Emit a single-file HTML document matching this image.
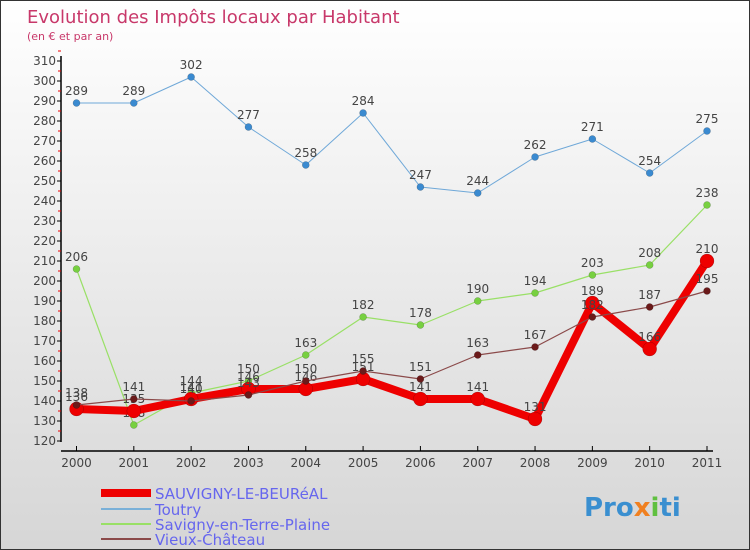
<!DOCTYPE html>
<html><head><meta charset="utf-8"><style>
body{margin:0}
#c{width:748px;height:548px;border:1px solid #333;background:linear-gradient(#ffffff,#d6d6d6);position:relative;overflow:hidden;font-family:"DejaVu Sans","Liberation Sans",sans-serif}
</style></head><body>
<div id="c">
<svg id="s" width="748" height="548" xmlns="http://www.w3.org/2000/svg">
<text x="26" y="22" font-size="18" fill="#c8386a">Evolution des Impôts locaux par Habitant</text>
<text x="26" y="39" font-size="11" fill="#c8386a">(en € et par an)</text>
<g id="axes"></g><g id="series"></g>
<g>
<line x1="100" y1="492" x2="150" y2="492" stroke="#ee0000" stroke-width="8"/>
<text x="154" y="498" font-size="15" fill="#6666ee">SAUVIGNY-LE-BEURéAL</text>
<line x1="100" y1="508" x2="150" y2="508" stroke="#7ab0d8" stroke-width="2"/>
<text x="154" y="514" font-size="15" fill="#6666ee">Toutry</text>
<line x1="100" y1="523" x2="150" y2="523" stroke="#99e066" stroke-width="2"/>
<text x="154" y="529" font-size="15" fill="#6666ee">Savigny-en-Terre-Plaine</text>
<line x1="100" y1="538" x2="150" y2="538" stroke="#8b4a4a" stroke-width="2"/>
<text x="154" y="544" font-size="15" fill="#6666ee">Vieux-Château</text>
</g>
<text x="583" y="515" font-size="26" font-weight="bold" fill="#3a8fd0">Pro<tspan fill="#f08020">x</tspan><tspan fill="#60c040">i</tspan>ti</text>
</svg></div>
<script>
const years=[2000,2001,2002,2003,2004,2005,2006,2007,2008,2009,2010,2011];
const yTicks=[120,130,140,150,160,170,180,190,200,210,220,230,240,250,260,270,280,290,300,310];
const sauvigny=[136,135,141,146,146,151,141,141,131,189,166,210];
const toutry=[289,289,302,277,258,284,247,244,262,271,254,275];
const savigny=[206,128,144,150,163,182,178,190,194,203,208,238];
const vieux=[138,141,140,143,150,155,151,163,167,182,187,195];
const NS="http://www.w3.org/2000/svg";
function X(i){return 75.5+i*(706-75.5)/11;}
function Y(v){return 440-(v-120)*2;}
function mk(t,a,p){const e=document.createElementNS(NS,t);for(const k in a)e.setAttribute(k,a[k]);p.appendChild(e);return e;}
const ax=document.getElementById('axes');
let l=mk('line',{x1:60,y1:Y(310)-5,x2:60,y2:441,stroke:'#000','stroke-width':1.5},ax);


l=mk('line',{x1:60,y1:450,x2:712,y2:450,stroke:'#000','stroke-width':1.5},ax);


yTicks.forEach(v=>{
 mk('line',{x1:56,y1:Y(v),x2:60,y2:Y(v),stroke:'#000'},ax);
 mk('line',{x1:57,y1:Y(v)-10,x2:60,y2:Y(v)-10,stroke:'#e00'},ax);
 const t=mk('text',{x:55,y:Y(v)+4,'font-size':12,'text-anchor':'end',fill:'#444'},ax);
 t.textContent=v;
 
 
});
years.forEach((y,i)=>{
 mk('line',{x1:X(i),y1:445,x2:X(i),y2:450,stroke:'#000'},ax);
 const t=mk('text',{x:X(i),y:466,'font-size':12,'text-anchor':'middle',fill:'#444'},ax);
 t.textContent=y;
 
 
});
const sg=document.getElementById('series');
function draw(data,name,color,w,r,dot){
 const g=mk('g',{},sg);
 
 
 mk('polyline',{points:data.map((v,i)=>X(i)+','+Y(v)).join(' '),fill:'none',stroke:color,'stroke-width':w,'stroke-linejoin':'round'},g);
 data.forEach((v,i)=>{
  const c=mk('circle',{cx:X(i),cy:Y(v),r:r,fill:dot,stroke:'rgba(0,0,0,0.3)','stroke-width':0.5},g);
  
  
  const t=mk('text',{x:X(i),y:Y(v)-8,'font-size':12,'text-anchor':'middle',fill:'#444'},g);
  t.textContent=v;
  
  
 });
}
draw(toutry,'toutry','#6fa8d8',1,3.5,'#3a8ad0');
draw(savigny,'savigny','#99e066',1.2,3.5,'#77d040');
draw(sauvigny,'sauvigny','#ee0000',8,7,'#ee0000');
draw(vieux,'vieux','#8b4a4a',1.2,3.5,'#6b1a1a');
</script>
</body></html>
